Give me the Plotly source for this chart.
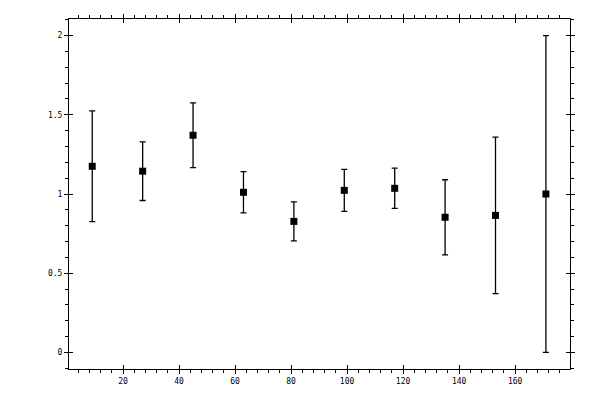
import plotly.graph_objects as go

bin_centres = [9, 27, 45, 63, 81, 99, 117, 135, 153, 171]
ratio = [1.175, 1.144, 1.371, 1.011, 0.827, 1.023, 1.036, 0.853, 0.865, 1.0]
ratio_err = [0.35, 0.185, 0.205, 0.13, 0.123, 0.133, 0.127, 0.237, 0.494, 1.0]

x_range = [0.7, 179.6]
y_range = [-0.105, 2.105]

fig = go.Figure()
fig.add_trace(go.Scatter(
    x=bin_centres, y=ratio, mode="markers",
    marker=dict(symbol="square", size=7, color="black"),
    error_y=dict(type="data", array=ratio_err, visible=True,
                 color="black", thickness=1.3, width=3),
    showlegend=False,
))
# empty trace on the overlay axes so the inward half of the major ticks is drawn
fig.add_trace(go.Scatter(x=[None], y=[None], xaxis="x2", yaxis="y2",
                         showlegend=False, hoverinfo="skip"))

axis_font = dict(family="DejaVu Sans Mono", size=8, color="black")

# the page body adds an 8px margin, so the plot box is shifted back by that much
fig.update_layout(
    width=600, height=400,
    margin=dict(l=61, r=38, t=11, b=39),
    plot_bgcolor="white", paper_bgcolor="white",
    xaxis=dict(range=x_range, tick0=0, dtick=20, ticks="outside", ticklen=4,
               tickwidth=1, tickcolor="black", showline=True, linecolor="black",
               linewidth=1, mirror="ticks", showgrid=False, zeroline=False,
               tickfont=axis_font, automargin=False,
               minor=dict(dtick=4, tick0=0, ticks="outside", ticklen=3,
                          tickcolor="black", showgrid=False)),
    yaxis=dict(range=y_range, tick0=0, dtick=0.5, ticks="outside", ticklen=4,
               tickwidth=1, tickcolor="black", showline=True, linecolor="black",
               linewidth=1, mirror="ticks", showgrid=False, zeroline=False,
               tickfont=axis_font, automargin=False,
               minor=dict(dtick=0.1, tick0=0, ticks="outside", ticklen=3,
                          tickcolor="black", showgrid=False)),
    xaxis2=dict(range=x_range, overlaying="x", tick0=0, dtick=20, ticks="inside",
                ticklen=4, tickcolor="black", mirror="ticks", showline=False,
                showticklabels=False, showgrid=False, zeroline=False),
    yaxis2=dict(range=y_range, overlaying="y", tick0=0, dtick=0.5, ticks="inside",
                ticklen=4, tickcolor="black", mirror="ticks", showline=False,
                showticklabels=False, showgrid=False, zeroline=False),
)

fig.write_html("out.html")
